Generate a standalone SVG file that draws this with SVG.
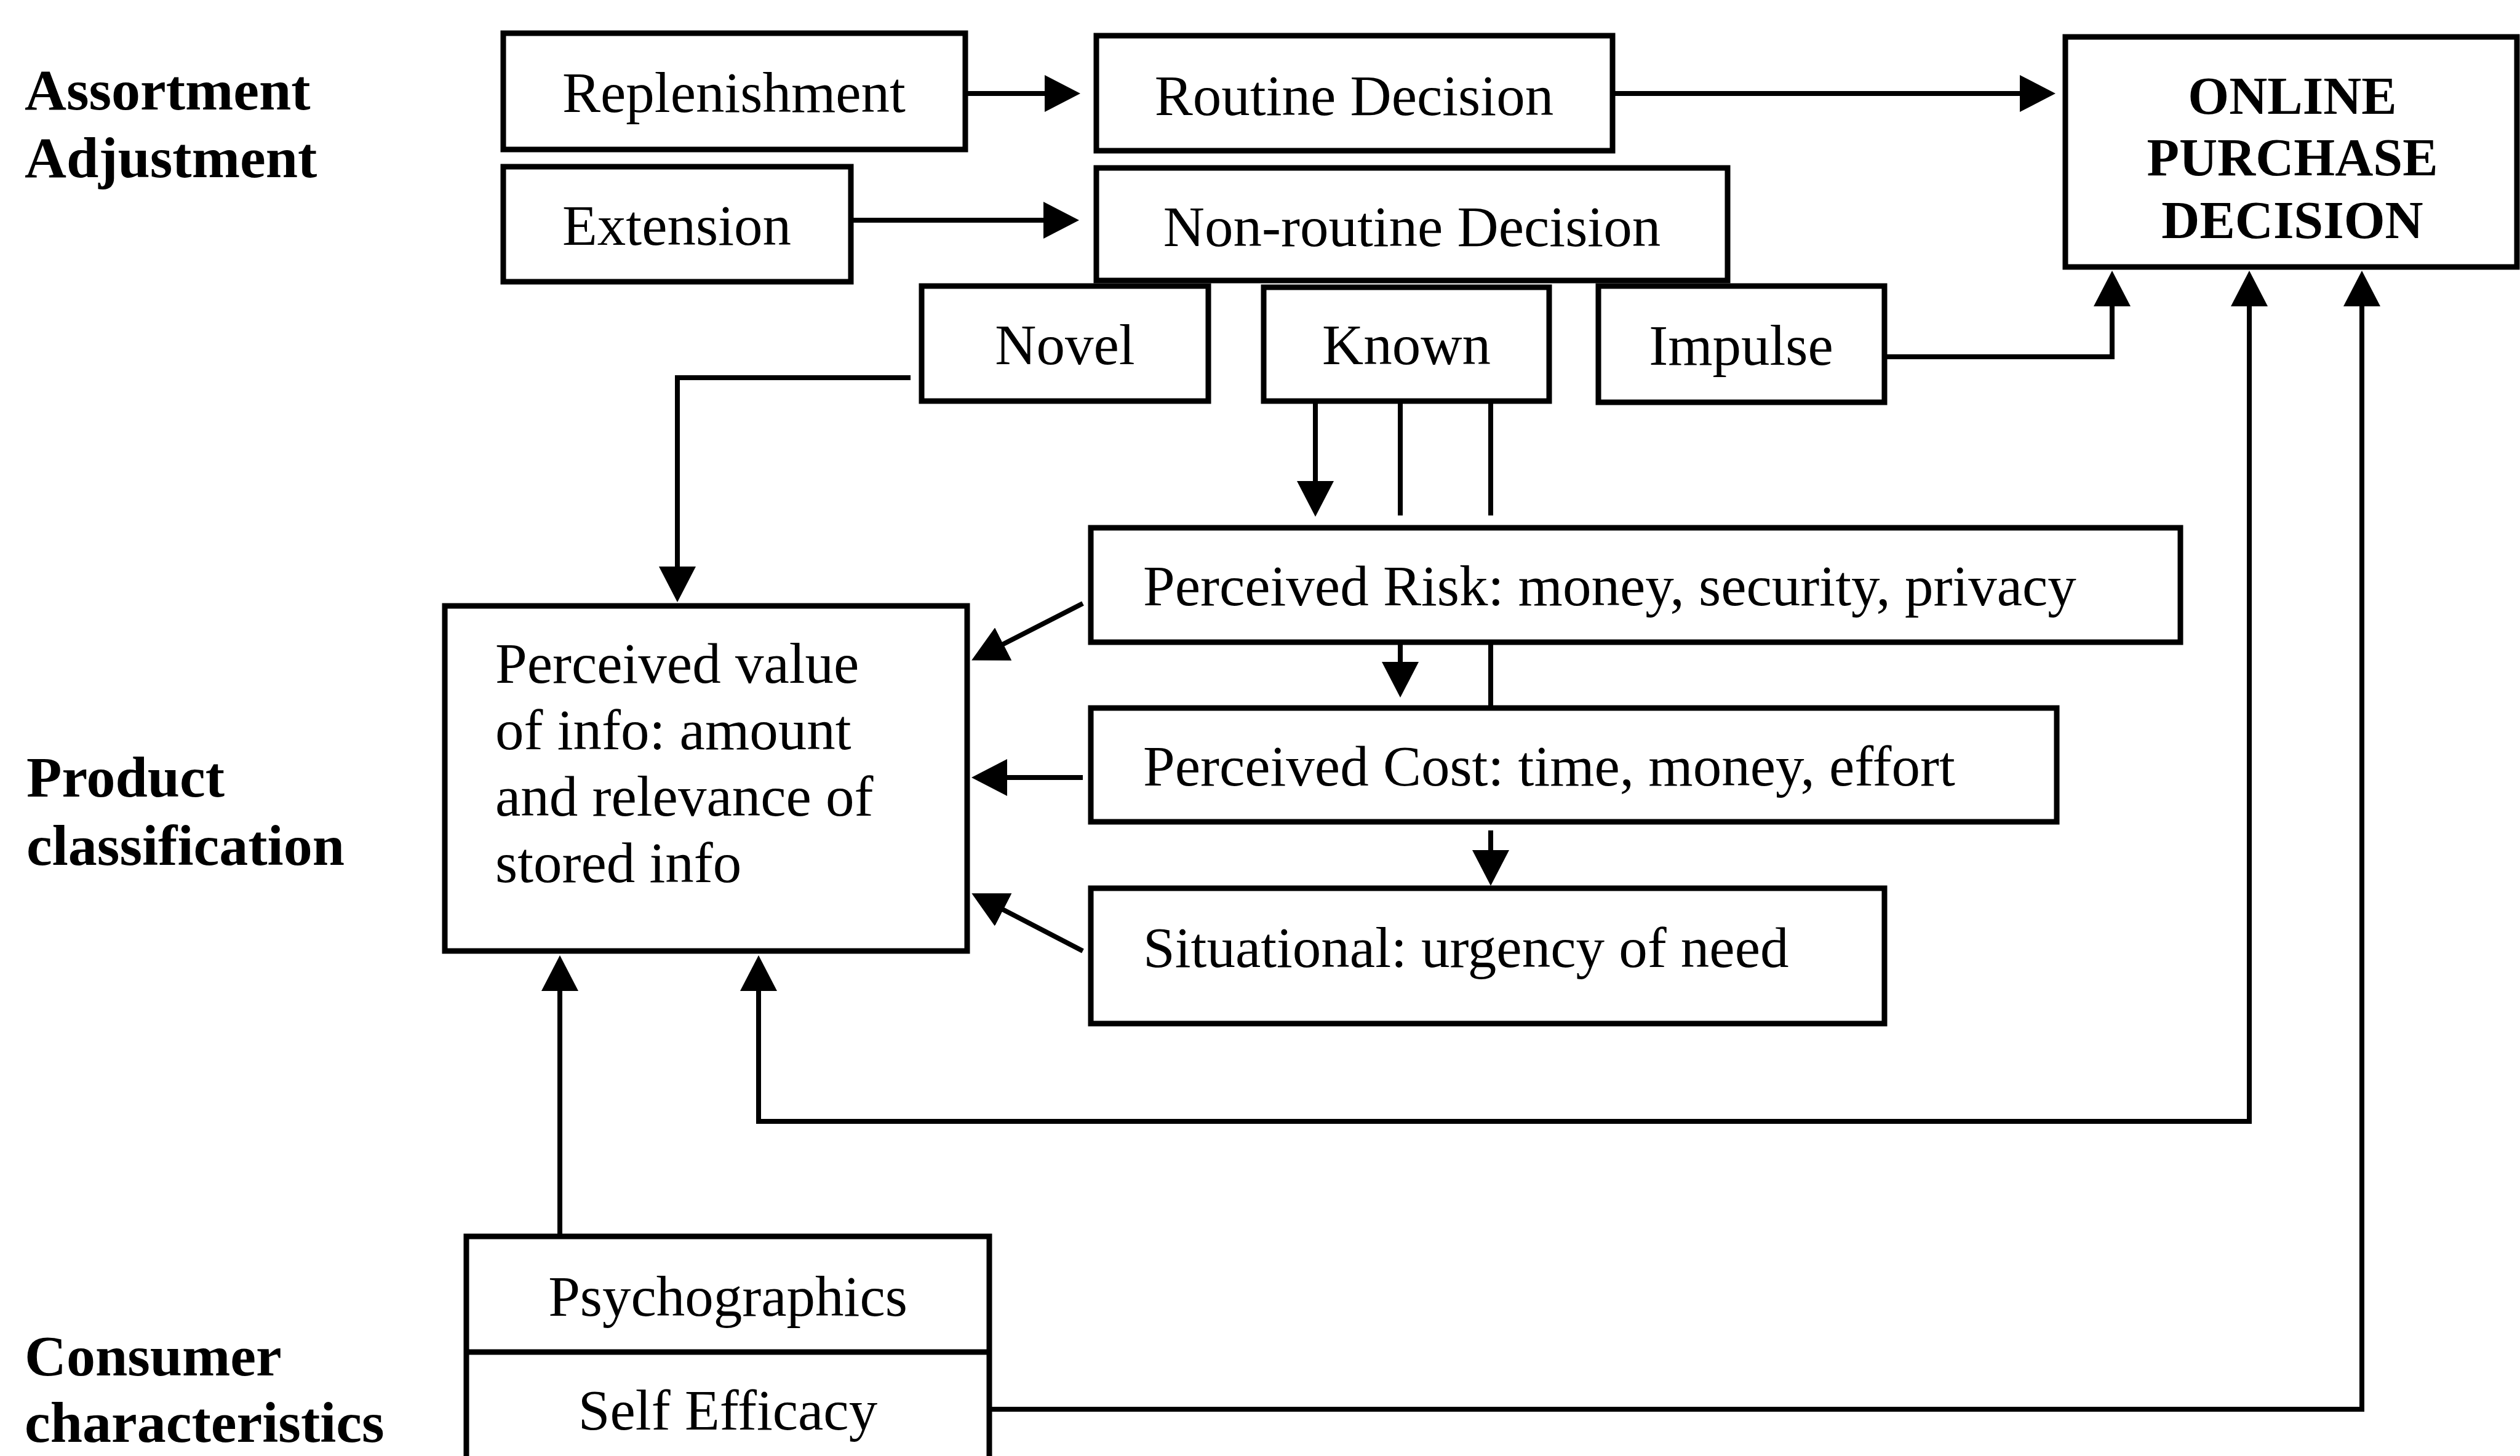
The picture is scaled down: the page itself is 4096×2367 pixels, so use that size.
<svg xmlns="http://www.w3.org/2000/svg" width="4096" height="2367" viewBox="0 0 4096 2367">
  <style>
    .box { fill: #ffffff; stroke: #000000; stroke-width: 9; }
    .t { font-family: "Liberation Serif", "Times New Roman", serif; font-size: 93px; fill: #000000; }
    .c { text-anchor: middle; }
    .lbl { font-family: "Liberation Serif", "Times New Roman", serif; font-size: 94px; font-weight: bold; fill: #000000; }
    .big { font-family: "Liberation Serif", "Times New Roman", serif; font-size: 86px; font-weight: bold; fill: #000000; text-anchor: middle; }
    .ln { fill: none; stroke: #000000; stroke-width: 8; }
    .arr { marker-end: url(#head); }
  </style>
  <defs>
    <marker id="head" viewBox="0 -30 58 60" refX="2" refY="0" markerWidth="58" markerHeight="60" markerUnits="userSpaceOnUse" orient="auto-start-reverse">
      <path d="M0,-30 L58,0 L0,30 Z" fill="#000000"/>
    </marker>
  </defs>
  <rect width="4096" height="2367" fill="#ffffff"/>

  <!-- row labels -->
  <g id="label-assortment">
    <text class="lbl" x="40" y="178">Assortment</text>
    <text class="lbl" x="40" y="288">Adjustment</text>
  </g>
  <g id="label-product">
    <text class="lbl" x="43" y="1295">Product</text>
    <text class="lbl" x="43" y="1406">classification</text>
  </g>
  <g id="label-consumer">
    <text class="lbl" x="40" y="2236">Consumer</text>
    <text class="lbl" x="40" y="2344">characteristics</text>
  </g>

  <!-- connectors -->
  <g id="connectors">
    <path class="ln arr" d="M1569,152 H1700"/>
    <path class="ln arr" d="M1383,358 H1698"/>
    <path class="ln arr" d="M2621,152 H3285"/>
    <path class="ln arr" d="M1480,614 H1101 V923"/>
    <path class="ln arr" d="M2138,652 V784"/>
    <path class="ln" d="M2276,652 V838"/>
    <path class="ln" d="M2423,652 V838"/>
    <path class="ln arr" d="M3063,580 H3433 V496"/>
    <path class="ln arr" d="M1760,981 L1629,1048"/>
    <path class="ln arr" d="M1760,1264 H1635"/>
    <path class="ln arr" d="M1760,1546 L1629,1478"/>
    <path class="ln arr" d="M2276,1044 V1078"/>
    <path class="ln" d="M2423,1044 V1151"/>
    <path class="ln arr" d="M2423,1350 V1384"/>
    <path class="ln arr" d="M910,2010 V1609"/>
    <path class="ln arr" d="M1233,1609 V1823 H3656 V496" marker-start="url(#head)"/>
    <path class="ln arr" d="M1608,2291 H3839 V496"/>
  </g>

  <!-- nodes -->
  <g id="replenishment">
    <rect class="box" x="818" y="54" width="751" height="189"/>
    <text class="t c" x="1193" y="182">Replenishment</text>
  </g>
  <g id="extension">
    <rect class="box" x="818" y="271" width="565" height="187"/>
    <text class="t c" x="1100" y="398">Extension</text>
  </g>
  <g id="routine-decision">
    <rect class="box" x="1782" y="58" width="839" height="187"/>
    <text class="t c" x="2201" y="187">Routine Decision</text>
  </g>
  <g id="nonroutine-decision">
    <rect class="box" x="1782" y="273" width="1026" height="183"/>
    <text class="t c" x="2295" y="400">Non-routine Decision</text>
  </g>
  <g id="novel">
    <rect class="box" x="1498" y="465" width="466" height="187"/>
    <text class="t c" x="1731" y="592">Novel</text>
  </g>
  <g id="known">
    <rect class="box" x="2054" y="467" width="464" height="185"/>
    <text class="t c" x="2286" y="592">Known</text>
  </g>
  <g id="impulse">
    <rect class="box" x="2598" y="465" width="465" height="189"/>
    <text class="t c" x="2830" y="593">Impulse</text>
  </g>
  <g id="online-purchase-decision">
    <rect class="box" x="3357" y="60" width="734" height="374"/>
    <text class="big" x="3726" y="185">ONLINE</text>
    <text class="big" x="3726" y="285">PURCHASE</text>
    <text class="big" x="3726" y="387">DECISION</text>
  </g>
  <g id="perceived-value">
    <rect class="box" x="723" y="985" width="849" height="561"/>
    <text class="t" x="805" y="1110">Perceived value</text>
    <text class="t" x="805" y="1218">of info: amount</text>
    <text class="t" x="805" y="1326">and relevance of</text>
    <text class="t" x="805" y="1434">stored info</text>
  </g>
  <g id="perceived-risk">
    <rect class="box" x="1773" y="858" width="1771" height="186"/>
    <text class="t" x="1858" y="984">Perceived Risk: money, security, privacy</text>
  </g>
  <g id="perceived-cost">
    <rect class="box" x="1773" y="1151" width="1570" height="185"/>
    <text class="t" x="1858" y="1277">Perceived Cost: time, money, effort</text>
  </g>
  <g id="situational">
    <rect class="box" x="1773" y="1444" width="1290" height="220"/>
    <text class="t" x="1858" y="1572">Situational: urgency of need</text>
  </g>
  <g id="consumer-traits">
    <rect class="box" x="758" y="2010" width="850" height="400"/>
    <line x1="758" y1="2198" x2="1608" y2="2198" stroke="#000000" stroke-width="9"/>
    <text class="t c" x="1183" y="2139">Psychographics</text>
    <text class="t c" x="1183" y="2324">Self Efficacy</text>
  </g>
</svg>
